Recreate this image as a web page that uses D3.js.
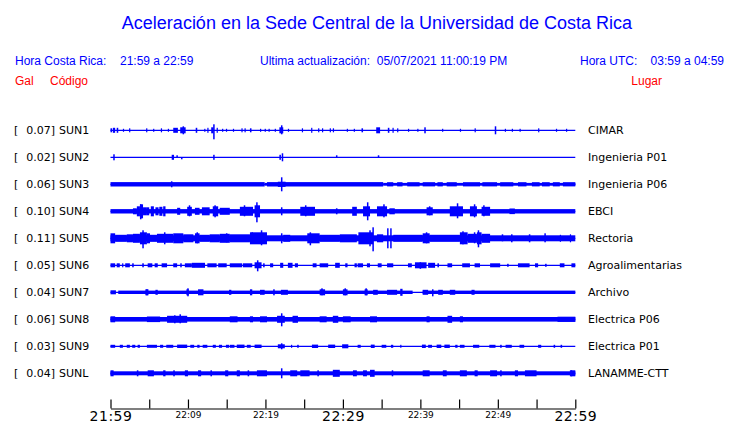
<!DOCTYPE html>
<html><head><meta charset="utf-8">
<script src="https://cdn.jsdelivr.net/npm/d3@7"></script>
<style>body{margin:0;background:#fff}svg{display:block}</style>
</head><body>
<svg id="c" width="740" height="423"></svg>
<script>
// ---- data (minutes after 21:59; amplitudes in trace units) ----
const codes = ["SUN1","SUN2","SUN3","SUN4","SUN5","SUN6","SUN7","SUN8","SUN9","SUNL"];
const gal = ["0.07","0.02","0.06","0.10","0.11","0.05","0.04","0.06","0.03","0.04"];
const places = ["CIMAR","Ingenieria P01","Ingenieria P06","EBCI","Rectoria","Agroalimentarias","Archivo","Electrica P06","Electrica P01","LANAMME-CTT"];
const tickMinutes = [0,5,10,15,20,25,30,35,40,45,50,55,60];
const tickLabels = ["21:59","","22:09","","22:19","","22:29","","22:39","","22:49","","22:59"];
const bigTicks = ["21:59","22:29","22:59"];

// envelope segments [start, end, half-amplitude]
const segSUN1 = [[0,0.2,2],[0.3,0.6,2.5],[0.8,1.0,2.5],[1.6,1.7,1.5],[2.4,2.5,2],[4.6,4.7,2],[5.5,5.6,1.5],[6.5,6.6,2],[7.4,7.5,1.5],[8.1,8.7,2.5],[9.0,9.7,3],[11.0,11.2,2.5],[12.1,12.2,1.5],[12.5,12.6,2.5],[13.0,13.3,3],[13.7,13.8,2.5],[14.4,14.5,1.5],[14.9,15.0,1.5],[15.8,15.9,1.5],[16.9,17.0,2],[17.3,17.4,2],[18.0,18.2,2],[19.3,19.4,1.5],[19.9,20.0,1.5],[20.4,20.5,1.5],[21.2,21.3,1.5],[21.8,22.3,3],[22.9,23.0,1.5],[24.7,24.8,2],[25.9,26.0,2.5],[26.8,26.9,2],[27.3,27.4,2],[28.3,28.4,2],[28.7,28.8,2],[30.5,30.6,1.5],[31.4,31.5,1.5],[32.4,32.6,2],[34.3,34.8,3],[35.8,36.0,2.5],[36.4,36.5,2.5],[37.0,37.1,2],[38.4,38.5,1.5],[39.6,39.7,1.5],[42.8,42.9,1.5],[45.1,45.2,1.5],[47.0,47.1,2],[50.9,51.0,1.5],[51.8,51.9,1.5],[52.8,52.9,1.5],[55.2,55.3,2],[57.5,57.6,1.5],[58.8,58.9,1.5]];
const segSUN2 = [[7.9,8.2,2.5],[21.8,22.0,2.5]];
const segSUN3 = [[0,19.9,2.2],[19.9,20.2,1.4],[20.2,35.2,2.2],[35.2,60,1.4],[21.6,22.6,2.6],[35.7,36.5,2.1],[37.0,37.7,2.1],[38.3,39.9,2.1],[40.3,41.9,2.1],[42.2,42.9,2.1],[43.4,44.7,2.1],[45.5,47.7,2.1],[48.0,49.9,2.1],[50.3,52.0,2.1],[52.6,53.7,2.1],[54.4,55.4,2.1],[55.7,56.7,2.1],[57.1,58.0,2.1],[58.4,60,2.1]];
const segSUN4 = [[0,60,2.2],[2.9,3.4,3],[3.4,3.8,5],[3.8,4.2,7],[4.2,4.7,4],[4.7,5.0,4],[5.2,5.6,5],[5.8,6.2,4],[6.3,6.7,4.5],[6.8,7.1,5],[8.6,9.0,3.5],[9.9,10.5,4.5],[10.9,11.5,3.5],[11.8,12.8,4],[13.2,13.9,5],[14.1,15.4,3.5],[16.7,18.4,4.5],[18.6,19.3,6],[24.5,26.4,4.5],[29.1,29.3,3],[31.2,31.8,4.5],[32.6,33.5,5],[34.4,35.7,5],[36.0,36.7,3],[40.8,41.6,4],[43.8,45.5,5],[46.4,47.3,5],[47.9,49.0,4.5],[51.5,52.2,2.8]];
const segSUN5 = [[0,60,3],[0,0.6,5],[0.6,2.1,3.5],[2.1,2.9,4],[2.9,3.8,4.5],[3.8,4.7,6],[4.7,5.1,5],[5.1,6.0,3.5],[6.0,8.1,4.5],[8.1,9.4,5],[9.4,10.7,4],[10.9,11.5,5],[11.5,12.8,3.5],[12.8,14.1,4],[14.1,15.4,4.5],[15.4,18.0,4],[18.0,20.2,6],[22.3,23.2,3.5],[25.4,27.0,5],[27.0,29.6,3.5],[29.6,31.8,4],[32.0,33.9,6],[34.4,35.2,4],[36.5,40.3,3.5],[40.3,41.2,5],[41.2,45.1,3.5],[45.1,46.1,6],[46.1,47.3,4.5],[47.3,47.9,6],[47.9,49.0,4.5],[51.7,51.9,4],[54.0,54.2,4],[58.0,58.1,3.5],[59.3,59.4,4]];
const segSUN6 = [[0,0.6,2],[0.8,1.2,2],[1.5,1.6,2],[1.9,2.5,2],[2.8,3.0,2],[4.1,4.3,2],[4.8,5.4,2],[5.7,6.1,2],[6.6,7.3,2],[8.1,8.6,2],[9.0,9.2,2],[9.6,10.5,2],[10.5,12.2,2.5],[12.5,13.7,2],[13.9,15.0,2],[15.4,17.0,2],[17.1,18.3,2],[18.6,19.5,3],[19.7,19.9,2],[20.6,21.0,2],[21.9,22.3,2.5],[22.9,23.5,2.5],[23.8,24.2,2],[26.1,26.6,2],[27.0,28.1,2],[29.0,29.6,2.5],[30.3,30.6,2],[31.5,31.8,2],[31.9,32.6,2],[33.1,33.5,2],[34.5,35.0,2],[35.7,36.5,2],[38.4,38.9,2],[39.3,40.8,3],[41.0,41.9,2.5],[42.2,42.4,2],[43.5,44.1,2],[45.4,46.4,2],[47.0,47.7,2],[49.0,50.3,2],[51.2,51.4,1.5],[52.6,54.1,2],[54.8,55.2,2],[56.1,56.3,1.5],[58.0,58.6,2],[59.5,60,2]];
const segSUN7 = [[0,0.7,2],[1.0,39.0,1.7],[40.3,60,1.7],[4.5,4.9,3],[5.8,6.1,2.5],[9.8,10.1,3],[11.3,12.0,3],[15.3,15.6,2.5],[18.0,18.3,3],[19.3,19.9,2.5],[21.0,21.2,3],[22.0,22.9,2.5],[27.0,27.7,3],[30.0,30.6,3],[32.8,33.2,3],[33.9,34.5,2.5],[35.7,37.0,2.5],[37.4,37.7,3.5],[40.3,41.0,2.5],[42.3,42.9,2.5],[43.8,44.5,2.5],[46.6,47.0,2.5]];
const segSUN8 = [[0,60,2.3],[0,0.6,3],[4.7,6.4,2.8],[7.3,9.9,3.5],[15.4,16.4,3],[18.0,18.4,3],[19.3,20.2,3],[21.5,22.5,3.5],[23.5,24.2,3.5],[27.0,27.9,3],[28.7,29.4,3.5],[30.0,31.0,3],[33.5,34.4,3],[40.8,41.2,3],[43.5,44.1,3.5],[45.1,45.5,3],[57.7,60,2.6]];
const segSUN9 = [[0,0.6,1.5],[1.2,1.6,1.5],[2.1,2.5,1.5],[2.8,3.2,1.5],[3.5,3.8,1.5],[4.7,6.0,1.5],[6.4,6.8,1.5],[7.2,8.1,1.5],[8.6,9.9,1.7],[10.3,10.8,1.5],[11.2,11.5,1.5],[11.9,12.5,1.5],[13.2,13.6,1.5],[14.0,14.4,1.5],[14.9,15.3,1.5],[15.4,16.0,1.5],[16.3,17.3,1.7],[17.6,18.1,1.5],[18.6,19.5,1.7],[21.6,22.5,2],[23.3,23.4,1.5],[24.1,24.3,1.5],[26.0,26.8,1.7],[28.1,29.0,1.7],[29.9,30.7,2],[31.9,32.3,1.5],[33.6,34.1,1.7],[35.0,35.6,1.5],[36.2,36.5,1.5],[37.4,37.5,1.5],[40.2,40.7,1.7],[41.0,41.5,1.5],[42.1,42.7,1.7],[43.1,43.8,1.7],[44.5,44.8,1.5],[45.1,45.7,1.5],[46.8,47.6,1.5],[48.9,49.7,1.5],[50.3,50.5,1.5],[51.0,51.8,1.5],[52.8,53.4,1.5],[55.2,55.6,1.5],[57.2,57.4,1.5],[58.1,58.3,1.5]];
const segSUNL = [[0,60,2],[0,0.4,3],[3.4,3.6,3],[4.8,5.6,3],[6.8,7.1,3],[8.1,8.3,3],[9.6,10.0,3],[11.3,11.7,3],[12.9,13.1,3],[14.8,15.2,3],[16.3,16.7,3],[17.7,17.9,3],[18.9,20.2,3],[23.2,24.1,3],[24.5,25.7,3],[26.7,26.9,3],[28.7,29.6,3.5],[31.3,31.8,3],[32.6,33.1,3],[33.5,34.1,3.5],[36.3,36.5,3],[40.3,41.2,3],[42.9,43.4,3],[45.1,46.0,3],[47.0,47.4,3],[49.0,49.9,3],[50.3,50.5,3],[52.2,52.6,3],[53.5,55.0,3],[59.3,60,3]];

// isolated peaks [time, up, down]
const pkSUN1 = [[9.4,4,4],[13.35,6,9],[22.1,5,4],[40.6,3,3],[49.7,4,4]];
const pkSUN2 = [[0.45,3,3],[8.6,2,0],[9.2,0,2],[13.35,2.5,2.5],[22.2,4,4],[29.2,2,0],[34.6,2,0]];
const pkSUN3 = [[7.9,3,3],[22.1,7,7]];
const pkSUN4 = [[3.9,7,8],[10.2,6,5],[13.5,6,6],[17.3,6,5],[18.9,9,11],[22.1,4,4],[25.2,6,5],[33.2,9,9],[35.3,7,6],[41.2,5,4],[44.8,8,7],[47.0,7,6],[48.2,6,5]];
const pkSUN5 = [[4.2,8,10],[7.0,6,6],[11.2,6,5],[15.0,5,4],[18.3,6,5],[19.5,8,7],[22.1,5,5],[25.8,6,7],[33.5,8,8],[33.9,11,13],[35.8,10,10],[36.2,10,10],[40.8,6,5],[45.5,7,6],[47.0,6,5],[47.5,8,9],[50.6,4,3],[56.1,5,4]];
const pkSUN6 = [[19.0,5,6],[40.0,3,3.5]];
const pkSUN7 = [[4.7,3,3],[10.0,4,4],[27.3,4,3],[30.3,4,3],[33.0,4,3],[41.6,3,4]];
const pkSUN8 = [[8.3,4,4],[9.0,5,4],[22.1,6,7]];
const pkSUN9 = [[22.1,3,3]];
const pkSUNL = [[22.1,5,5],[59.5,3,3]];

const segs = [segSUN1,segSUN2,segSUN3,segSUN4,segSUN5,segSUN6,segSUN7,segSUN8,segSUN9,segSUNL];
const peaks = [pkSUN1,pkSUN2,pkSUN3,pkSUN4,pkSUN5,pkSUN6,pkSUN7,pkSUN8,pkSUN9,pkSUNL];

// ---- drawing ----
const svg = d3.select("#c");
const BLUE = "#0000ff", RED = "#ff0000";
const sans = "'Liberation Sans', Arial, sans-serif";
const dv = "'DejaVu Sans', sans-serif";

const x = d3.scaleLinear().domain([0,60]).range([110.5,575.3]);
const y = d3.scalePoint().domain(codes).range([130.3,373.3]);
const amp = d3.scaleLinear().domain([0,13]).range([0,13]);

// header
svg.append("text").attr("x",377).attr("y",29).attr("text-anchor","middle")
  .attr("font-family",sans).attr("font-size",18).attr("fill",BLUE)
  .text("Aceleración en la Sede Central de la Universidad de Costa Rica");
const hdr = [["Hora Costa Rica:",15,"start"],["21:59 a 22:59",120,"start"],
  ["Ultima actualización:  05/07/2021 11:00:19 PM",260,"start"],
  ["Hora UTC:",580,"start"],["03:59 a 04:59",724,"end"]];
hdr.forEach(h=>svg.append("text").attr("x",h[1]).attr("y",65).attr("text-anchor",h[2])
  .attr("font-family",sans).attr("font-size",12).attr("fill",BLUE)
  .style("white-space","pre").attr("xml:space","preserve").text(h[0]));
[["Gal",15,"start"],["Código",50,"start"],["Lugar",662,"end"]].forEach(h=>
  svg.append("text").attr("x",h[1]).attr("y",85).attr("text-anchor",h[2])
  .attr("font-family",sans).attr("font-size",12).attr("fill",RED).text(h[0]));

// rows
codes.forEach((c,i)=>{
  const cy = y(c);
  const g = svg.append("g");
  g.append("text").attr("x",14).attr("y",cy+4).attr("font-family",dv).attr("font-size",11).attr("fill","#000").text("[");
  g.append("text").attr("x",55).attr("y",cy+4).attr("text-anchor","end").attr("font-family",dv).attr("font-size",11).attr("fill","#000").text(gal[i]+"]");
  g.append("text").attr("x",59).attr("y",cy+4).attr("font-family",dv).attr("font-size",11).attr("fill","#000").text(c);
  g.append("text").attr("x",588).attr("y",cy+4).attr("font-family",dv).attr("font-size",11).attr("fill","#000").text(places[i]);
  g.append("line").attr("x1",x(0)).attr("x2",x(60)).attr("y1",cy).attr("y2",cy)
    .attr("stroke",BLUE).attr("stroke-width",1.3);
  g.selectAll("rect.s").data(segs[i]).join("rect").attr("class","s")
    .attr("x",d=>x(d[0])).attr("width",d=>Math.max(x(d[1])-x(d[0]),1.2))
    .attr("y",d=>cy-amp(d[2])).attr("height",d=>2*amp(d[2])).attr("fill",BLUE);
  g.selectAll("rect.p").data(peaks[i]).join("rect").attr("class","p")
    .attr("x",d=>x(d[0])-0.75).attr("width",1.5)
    .attr("y",d=>cy-amp(d[1])).attr("height",d=>amp(d[1])+amp(d[2])).attr("fill",BLUE);
});

// time axis
const axis = d3.axisBottom(x).tickValues(tickMinutes).tickSize(-9).tickSizeOuter(0)
  .tickFormat((d,i)=>tickLabels[i]);
const ag = svg.append("g").attr("transform","translate(0,408.5)").call(axis);
ag.select(".domain").attr("stroke","#000").attr("stroke-width",1.2);
ag.selectAll(".tick line").attr("stroke","#000").attr("stroke-width",1.2);
ag.selectAll(".tick text").attr("fill","#000").attr("font-family",dv).attr("dy",null)
  .each(function(d,i){
    const big = bigTicks.includes(tickLabels[i]);
    d3.select(this).attr("font-size",big?14:9).attr("y",big?12.5:9.5)
      .attr("letter-spacing",big?0.5:0);
  });
</script>
</body></html>
